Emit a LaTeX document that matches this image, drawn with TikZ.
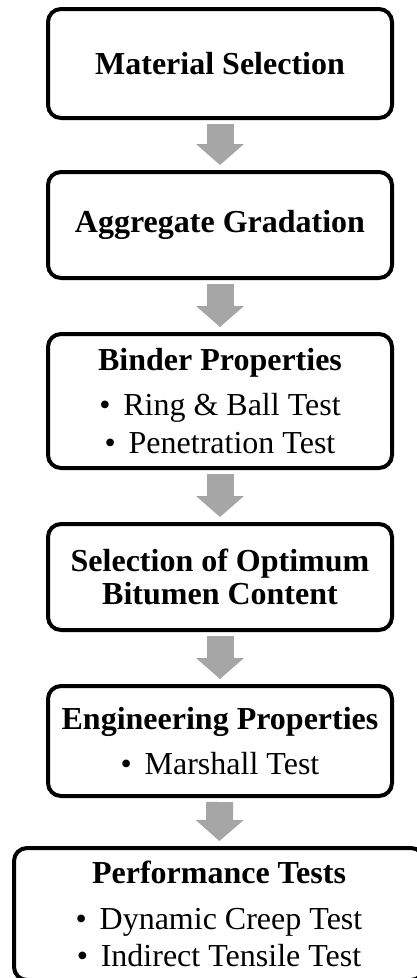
\documentclass[tikz,border=0pt]{standalone}
\usepackage{fontspec}
\setmainfont{Liberation Serif}
\usetikzlibrary{arrows.meta}
\definecolor{arrowgray}{HTML}{A6A6A6}
\newcommand{\itembullet}{•\hspace{0.4em}}

\tikzset{
  stagebox/.style={draw, line width=4pt, rounded corners=13pt, minimum width=344pt,
    inner sep=0pt, align=center, font=\fontsize{32}{37.5}\selectfont},
  flowarrow/.style={arrowgray, line width=27pt,
    -{Triangle[width=48pt,length=21pt,line width=0pt]}, shorten <=4pt, shorten >=5pt}
}

\begin{document}
\begin{tikzpicture}[x=1pt,y=-1pt]
        \useasboundingbox (0,0) rectangle (417,978);

        % Stages
        \node[stagebox, minimum height=109pt] (matsel) at (220,63.5) {\textbf{Material Selection}};
        \node[stagebox, minimum height=106pt] (aggrad) at (220,225) {\textbf{Aggregate Gradation}};
        \node[stagebox, minimum height=134pt] (binder) at (220,401)
          {\textbf{Binder Properties}\\[8pt] \itembullet Ring \& Ball Test\\ \itembullet Penetration Test};
        \node[stagebox, minimum height=106pt] (optbit) at (220,577)
          {\textbf{Selection of Optimum}\\[-4.5pt] \textbf{Bitumen Content}};
        \node[stagebox, minimum height=110pt] (engprop) at (220,741)
          {\textbf{Engineering Properties}\\[8pt] \itembullet Marshall Test};
        \node[stagebox, minimum height=132pt, minimum width=410pt] (perftest) at (219,914)
          {\textbf{Performance Tests}\\[8pt] \itembullet Dynamic Creep Test\\ \itembullet Indirect Tensile Test};

        % Arrows between stages
        \draw[flowarrow] (matsel) -- (aggrad);
        \draw[flowarrow] (aggrad) -- (binder);
        \draw[flowarrow] (binder) -- (optbit);
        \draw[flowarrow] (optbit) -- (engprop);
        \draw[flowarrow] (engprop) -- (perftest);
      \end{tikzpicture}
\end{document}
